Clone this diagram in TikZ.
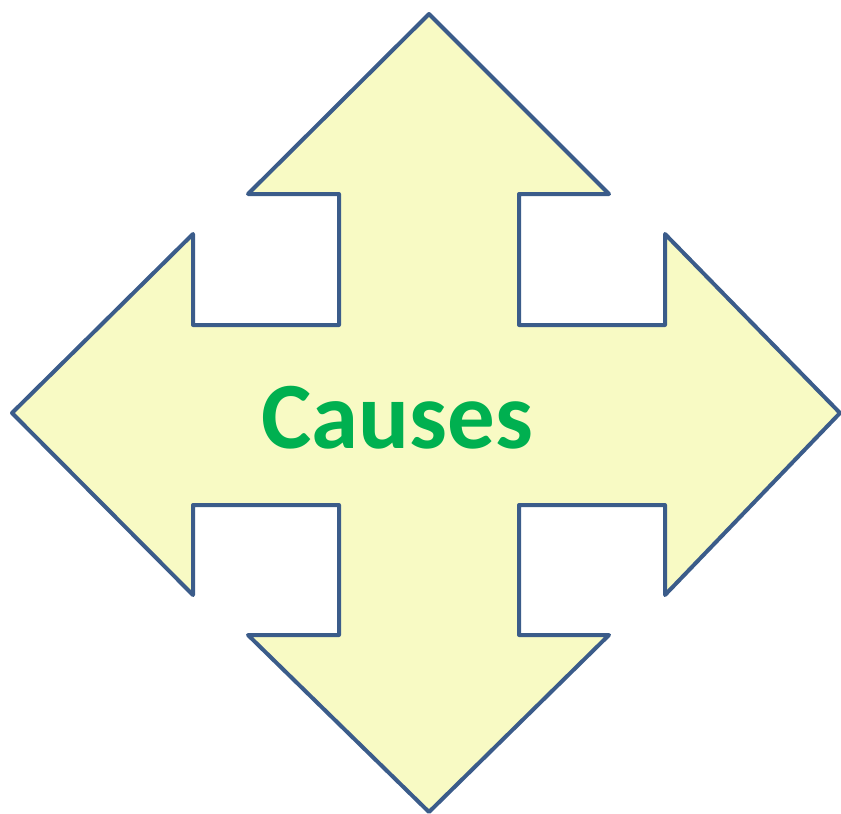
\documentclass[tikz,border=0pt]{standalone}
\usepackage{fontspec}
\setmainfont{Carlito}
\usetikzlibrary{positioning}
\definecolor{edge}{RGB}{59,92,138}
\definecolor{pale}{RGB}{248,250,196}
\definecolor{leaf}{RGB}{0,176,80}

\begin{document}
\begin{tikzpicture}[
    x=1pt,y=-1pt,
    cross/.style={
        draw=edge,
        fill=pale,
        line width=4pt,
        line join=round
    },
    word/.style={font=\fontsize{95}{100}\selectfont\bfseries, text=leaf, inner sep=0pt}
]

% Frame
\useasboundingbox (0,0) rectangle (841,814);

% Four-way arrow
\draw[cross]
    (429,14) -- (609,194) -- (519,194) -- (519,325)
    -- (665,325) -- (665,234) -- (840,413) -- (665,595) -- (665,505)
    -- (519,505) -- (519,635) -- (609,635) -- (429,812) -- (248,635)
    -- (339,635) -- (339,505) -- (193,505) -- (193,595) -- (12,413)
    -- (193,234) -- (193,325) -- (339,325) -- (339,194) -- (248,194)
    -- cycle;

% Label
\node[word, anchor=base] (causes) at (397,448) {Causes};

\end{tikzpicture}
\end{document}
